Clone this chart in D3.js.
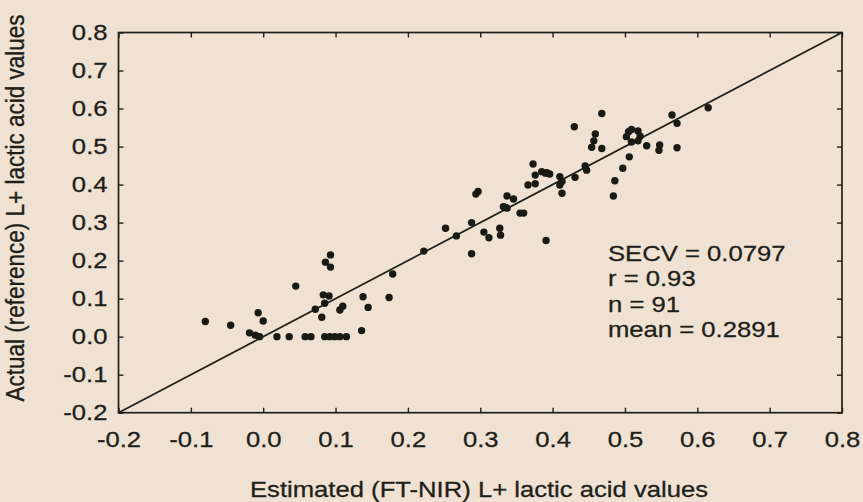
<!DOCTYPE html>
<html>
<head>
<meta charset="utf-8">
<script src="https://cdn.jsdelivr.net/npm/d3@7"></script>
<style>
  html, body { margin: 0; padding: 0; background: #efe2d2; }
  svg { display: block; }
  text { font-family: "Liberation Sans", Arial, Helvetica, sans-serif; fill: #1f1f1a; stroke: #1f1f1a; stroke-width: 0.3px; }
</style>
</head>
<body>
<svg id="chart" width="863" height="502"></svg>
<script>
// Estimated (FT-NIR) vs. actual (reference) L+ lactic acid values
const estimated = [
  -0.080, -0.045, -0.019, -0.011, -0.005, -0.007, 0.000, 0.019, 0.036, 0.058,
   0.066,  0.085,  0.092,  0.099,  0.106,  0.115, 0.136, 0.045, 0.072, 0.081,
   0.085,  0.083,  0.091,  0.086,  0.093,  0.093, 0.106, 0.110, 0.138, 0.145,
   0.174,  0.179,
   0.222,  0.252,  0.267,  0.288,  0.288,  0.294, 0.297, 0.305, 0.312, 0.327,
   0.328,  0.332,  0.337,  0.335,  0.337,  0.346, 0.355, 0.360, 0.391,
   0.366,  0.376,  0.373,  0.376,  0.385,  0.390, 0.392, 0.396, 0.410, 0.413,
   0.410,  0.413,  0.431,  0.445,  0.447,  0.430, 0.459, 0.457, 0.454, 0.468,
   0.468,  0.484,  0.486,  0.497,  0.506,
   0.505,  0.509,  0.518,  0.521,  0.518,  0.509, 0.502,
   0.530,  0.548,  0.547,  0.572,  0.565,  0.572, 0.615
];
const actual = [
   0.040,  0.030,  0.010,  0.004,  0.000,  0.063, 0.041, 0.000, 0.000, 0.000,
   0.000,  0.000,  0.000,  0.000,  0.000,  0.000, 0.016, 0.133, 0.072, 0.051,
   0.088,  0.110,  0.107,  0.196,  0.215,  0.183, 0.070, 0.080, 0.105, 0.077,
   0.103,  0.165,
   0.225,  0.285,  0.265,  0.300,  0.218,  0.375, 0.382, 0.275, 0.260, 0.285,
   0.267,  0.342,  0.338,  0.340,  0.370,  0.362, 0.325, 0.325, 0.253,
   0.399,  0.402,  0.454,  0.425,  0.434,  0.430, 0.431, 0.428, 0.421, 0.408,
   0.399,  0.377,  0.419,  0.449,  0.438,  0.552, 0.533, 0.515, 0.498, 0.495,
   0.587,  0.370,  0.410,  0.443,  0.473,
   0.539,  0.545,  0.541,  0.527,  0.515,  0.512, 0.526,
   0.502,  0.504,  0.490,  0.497,  0.583,  0.561, 0.602
];
const tickValues = [-0.2, -0.1, 0.0, 0.1, 0.2, 0.3, 0.4, 0.5, 0.6, 0.7, 0.8];
const statLines = ["SECV = 0.0797", "r = 0.93", "n = 91", "mean = 0.2891"];
const xTitle = "Estimated (FT-NIR) L+ lactic acid values";
const yTitle = "Actual (reference) L+ lactic acid values";

const ink = "#1f1f1a";
const stretch = 1.14;   // glyphs are drawn slightly wide
const fontSize = 22.5;

const svg = d3.select("#chart");
const x = d3.scaleLinear().domain([-0.2, 0.8]).range([118.5, 842]);
const y = d3.scaleLinear().domain([-0.2, 0.8]).range([412.7, 32.5]);
// plain hyphen for negative labels
const fmt = v => d3.format(".1f")(v).replace("\u2212", "-");

// axes with inward ticks on all four sides
const tick = 5;
const gB = svg.append("g").attr("transform", `translate(0,${y(-0.2)})`)
  .call(d3.axisBottom(x).tickValues(tickValues).tickFormat(fmt).tickSizeInner(-tick).tickSizeOuter(0).tickPadding(18));
const gL = svg.append("g").attr("transform", `translate(${x(-0.2)},0)`)
  .call(d3.axisLeft(y).tickValues(tickValues).tickFormat(fmt).tickSizeInner(-tick).tickSizeOuter(0).tickPadding(11));
const gT = svg.append("g").attr("transform", `translate(0,${y(0.8)})`)
  .call(d3.axisTop(x).tickValues(tickValues).tickFormat("").tickSizeInner(-tick).tickSizeOuter(0));
const gR = svg.append("g").attr("transform", `translate(${x(0.8)},0)`)
  .call(d3.axisRight(y).tickValues(tickValues).tickFormat("").tickSizeInner(-tick).tickSizeOuter(0));

[gB, gL, gT, gR].forEach(g => {
  g.select(".domain").remove();
  g.selectAll("line").attr("stroke", ink).attr("stroke-width", 1.4);
  g.selectAll("text").attr("font-size", fontSize).attr("fill", ink)
    .attr("font-family", "Liberation Sans, Arial, sans-serif");
});
gB.selectAll(".tick text").attr("transform", `scale(${stretch},1)`);
gL.selectAll(".tick text").attr("transform", `scale(${stretch},1)`)
  .attr("x", -11 / stretch);

// frame
svg.append("rect")
  .attr("x", x(-0.2)).attr("y", y(0.8))
  .attr("width", x(0.8) - x(-0.2)).attr("height", y(-0.2) - y(0.8))
  .attr("fill", "none").attr("stroke", ink).attr("stroke-width", 1.7);

// 1:1 line
svg.append("line")
  .attr("x1", x(-0.2)).attr("y1", y(-0.2))
  .attr("x2", x(0.8)).attr("y2", y(0.8))
  .attr("stroke", ink).attr("stroke-width", 1.7);

// samples
svg.append("g").selectAll("circle")
  .data(d3.range(estimated.length))
  .join("circle")
  .attr("cx", i => x(estimated[i]))
  .attr("cy", i => y(actual[i]))
  .attr("r", 3.7)
  .attr("fill", "#1a1a15");

// statistics
const stats = svg.append("text")
  .attr("transform", `translate(608,0) scale(${stretch},1)`)
  .attr("font-size", fontSize).attr("fill", ink);
stats.selectAll("tspan").data(statLines).join("tspan")
  .attr("x", 0)
  .attr("y", (d, i) => 261 + i * 25.5)
  .text(d => d);

// axis titles
svg.append("text")
  .attr("transform", `translate(479,497) scale(${stretch},1)`)
  .attr("text-anchor", "middle").attr("font-size", fontSize).attr("fill", ink)
  .text(xTitle);
svg.append("text")
  .attr("transform", `translate(24,208) scale(${stretch},1) rotate(-90)`)
  .attr("text-anchor", "middle").attr("font-size", fontSize).attr("fill", ink)
  .text(yTitle);
</script>
</body>
</html>
